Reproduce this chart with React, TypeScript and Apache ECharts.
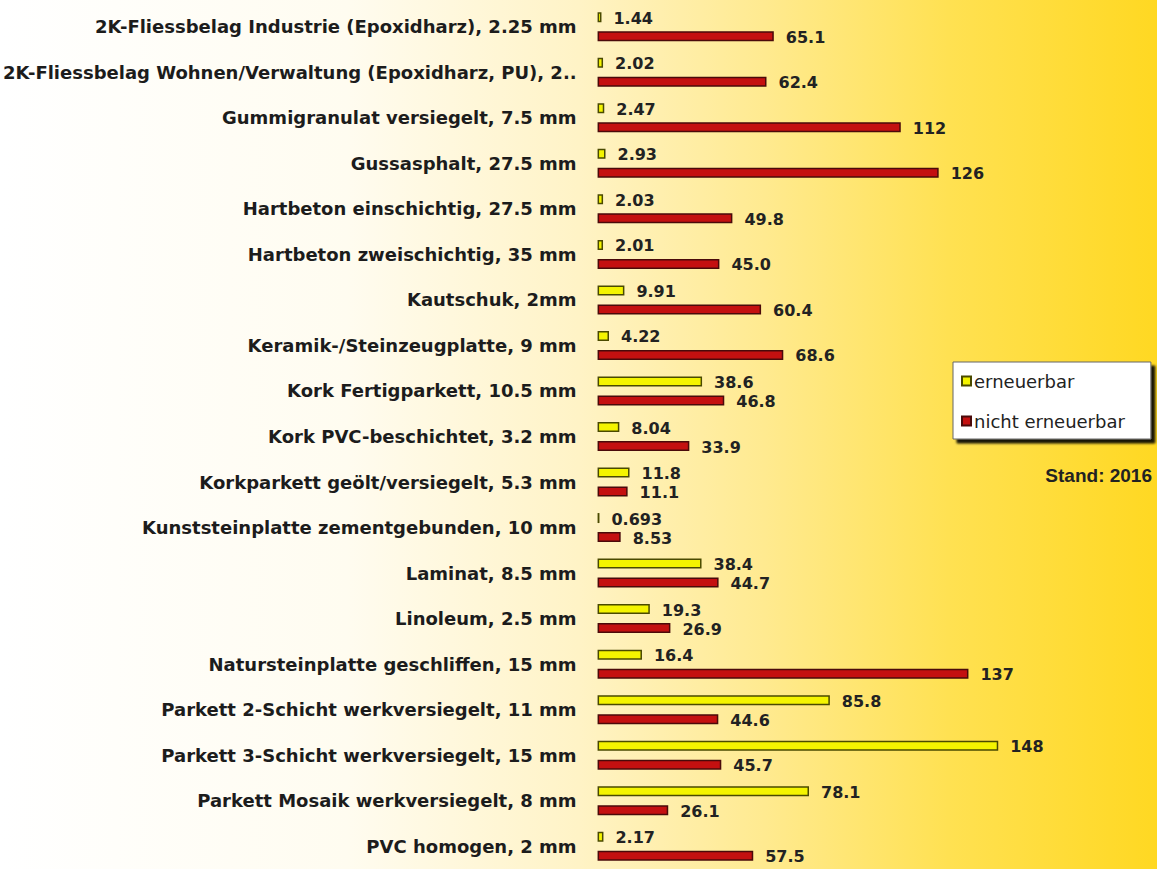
import React, { useEffect, useRef } from "react";
import * as echarts from "echarts";

const categories = [
  "2K-Fliessbelag Industrie (Epoxidharz), 2.25 mm",
  "2K-Fliessbelag Wohnen/Verwaltung (Epoxidharz, PU), 2..",
  "Gummigranulat versiegelt, 7.5 mm",
  "Gussasphalt, 27.5 mm",
  "Hartbeton einschichtig, 27.5 mm",
  "Hartbeton zweischichtig, 35 mm",
  "Kautschuk, 2mm",
  "Keramik-/Steinzeugplatte, 9 mm",
  "Kork Fertigparkett, 10.5 mm",
  "Kork PVC-beschichtet, 3.2 mm",
  "Korkparkett geölt/versiegelt, 5.3 mm",
  "Kunststeinplatte zementgebunden, 10 mm",
  "Laminat, 8.5 mm",
  "Linoleum, 2.5 mm",
  "Natursteinplatte geschliffen, 15 mm",
  "Parkett 2-Schicht werkversiegelt, 11 mm",
  "Parkett 3-Schicht werkversiegelt, 15 mm",
  "Parkett Mosaik werkversiegelt, 8 mm",
  "PVC homogen, 2 mm",
];

const erneuerbar = [
  1.44, 2.02, 2.47, 2.93, 2.03, 2.01, 9.91, 4.22, 38.6, 8.04, 11.8, 0.693, 38.4,
  19.3, 16.4, 85.8, 148, 78.1, 2.17,
];

const nichtErneuerbar = [
  65.1, 62.4, 112, 126, 49.8, 45.0, 60.4, 68.6, 46.8, 33.9, 11.1, 8.53, 44.7,
  26.9, 137, 44.6, 45.7, 26.1, 57.5,
];

const seriesNames = ["erneuerbar", "nicht erneuerbar"];
const standText = "Stand: 2016";

export default function App() {
  const ref = useRef<HTMLDivElement>(null);

  useEffect(() => {
    document.body.style.margin = "0";
    if (!ref.current) return;
    const chart = echarts.init(ref.current, undefined, { renderer: "svg" });

    const valueLabel = {
      show: true,
      position: "right",
      distance: 12,
      offset: [0, 1],
      fontFamily: "DejaVu Sans",
      fontWeight: "bold",
      fontSize: 16,
      color: "#222",
      formatter: (p: any) => Number(p.value).toPrecision(3),
    };

    chart.setOption({
      animation: false,
      backgroundColor: {
        type: "linear",
        x: 0,
        y: 0,
        x2: 1,
        y2: 0,
        colorStops: [
          { offset: 0, color: "#ffffff" },
          { offset: 0.3, color: "#fffcf0" },
          { offset: 0.5, color: "#fff3c6" },
          { offset: 0.66, color: "#ffea90" },
          { offset: 0.82, color: "#ffe152" },
          { offset: 1, color: "#ffd822" },
        ],
      },
      grid: { left: 596, top: 4, width: 543, height: 875 },
      xAxis: {
        type: "value",
        min: 0,
        max: 200,
        show: false,
      },
      yAxis: {
        type: "category",
        data: categories,
        inverse: true,
        axisLine: { show: false },
        axisTick: { show: false },
        splitLine: { show: false },
        axisLabel: {
          margin: 21,
          fontFamily: "DejaVu Sans",
          fontWeight: "bold",
          fontSize: 18,
          color: "#1c1c1c",
        },
      },
      legend: {
        orient: "vertical",
        left: 953,
        top: 362,
        padding: [9, 26, 8, 8],
        itemWidth: 9,
        itemHeight: 9,
        itemGap: 20,
        icon: "rect",
        backgroundColor: "#ffffff",
        borderColor: "#666",
        borderWidth: 1,
        shadowColor: "rgba(0,0,0,0.9)",
        shadowBlur: 2,
        shadowOffsetX: 4,
        shadowOffsetY: 4,
        textStyle: {
          fontFamily: "DejaVu Sans",
          fontSize: 18,
          lineHeight: 20,
          color: "#222",
          padding: [0, 0, 0, -2],
        },
        data: seriesNames,
      },
      graphic: [
        {
          type: "text",
          right: 5,
          top: 466,
          style: {
            text: standText,
            fontFamily: "Liberation Sans",
            fontWeight: "bold",
            fontSize: 19,
            fill: "#222",
          },
        },
      ],
      series: [
        {
          name: seriesNames[0],
          type: "bar",
          data: erneuerbar,
          barWidth: 10,
          barGap: "90%",
          itemStyle: {
            color: "#f4f400",
            borderColor: "#4a4a00",
            borderWidth: 1.5,
          },
          label: valueLabel,
        },
        {
          name: seriesNames[1],
          type: "bar",
          data: nichtErneuerbar,
          barWidth: 10,
          barGap: "90%",
          itemStyle: {
            color: "#c41010",
            borderColor: "#4a0a0a",
            borderWidth: 1.5,
          },
          label: valueLabel,
        },
      ],
    });

    return () => chart.dispose();
  }, []);

  return (
    <div
      ref={ref}
      style={{ position: "absolute", left: 0, top: 0, width: 1157, height: 869 }}
    />
  );
}
